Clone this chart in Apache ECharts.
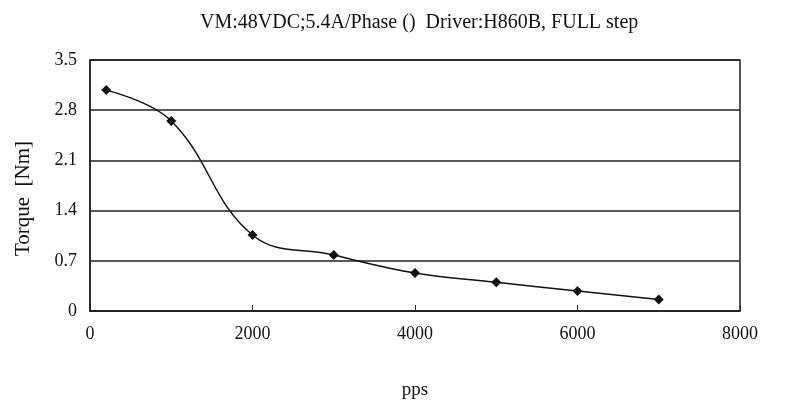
<!DOCTYPE html>
<html><head><meta charset="utf-8">
<script src="https://cdn.jsdelivr.net/npm/echarts@6/dist/echarts.min.js"></script>
<style>html,body{margin:0;padding:0;background:#fff}#c{width:786px;height:412px}</style>
</head><body><div id="c"></div>
<script>
const speeds = [200, 1000, 2000, 3000, 4000, 5000, 6000, 7000];
const torque = [3.08, 2.65, 1.06, 0.78, 0.53, 0.40, 0.28, 0.16];
const subtitle = 'VM:48VDC;5.4A/Phase ()  Driver:H860B, FULL step';
const xName = 'pps';
const yName = 'Torque  [Nm]';
const font = 'Liberation Serif';

const chart = echarts.init(document.getElementById('c'));
chart.setOption({
  animation: false,
  backgroundColor: '#fff',
  title: {
    text: subtitle, left: 200, top: 13, padding: 0,
    textStyle: { fontFamily: font, fontSize: 20, fontWeight: 'normal', color: '#111' }
  },
  grid: { left: 90, right: 46, top: 60, bottom: 101, show: true, borderColor: '#222', borderWidth: 1.5 },
  xAxis: {
    type: 'value', min: 0, max: 8000, interval: 2000,
    name: xName, nameLocation: 'middle', nameGap: 70,
    nameTextStyle: { fontFamily: font, fontSize: 19, color: '#111' },
    axisLine: { show: true, onZero: false, lineStyle: { color: '#222', width: 1.5 } },
    axisTick: { show: true, inside: true, length: 6, lineStyle: { color: '#222' } },
    axisLabel: { fontFamily: font, fontSize: 18, color: '#111', margin: 14,
      formatter: v => String(v) },
    splitLine: { show: false }
  },
  yAxis: {
    type: 'value', min: 0, max: 3.5, interval: 0.7,
    name: yName, nameLocation: 'middle', nameGap: 56,
    nameTextStyle: { fontFamily: font, fontSize: 21, color: '#111', padding: [0, 26, 0, 0] },
    axisLine: { show: true, lineStyle: { color: '#222', width: 1.5 } },
    axisTick: { show: false },
    axisLabel: { fontFamily: font, fontSize: 18, color: '#111', margin: 13,
      formatter: v => (v === 0 ? '0' : v.toFixed(1)) },
    splitLine: { show: true, lineStyle: { color: '#222', width: 1.5 } }
  },
  series: [{
    type: 'line',
    data: speeds.map((s, i) => [s, torque[i]]),
    smooth: 0.4,
    symbol: 'diamond', symbolSize: 10,
    lineStyle: { color: '#111', width: 1.5 },
    itemStyle: { color: '#111' }
  }]
});
</script></body></html>
